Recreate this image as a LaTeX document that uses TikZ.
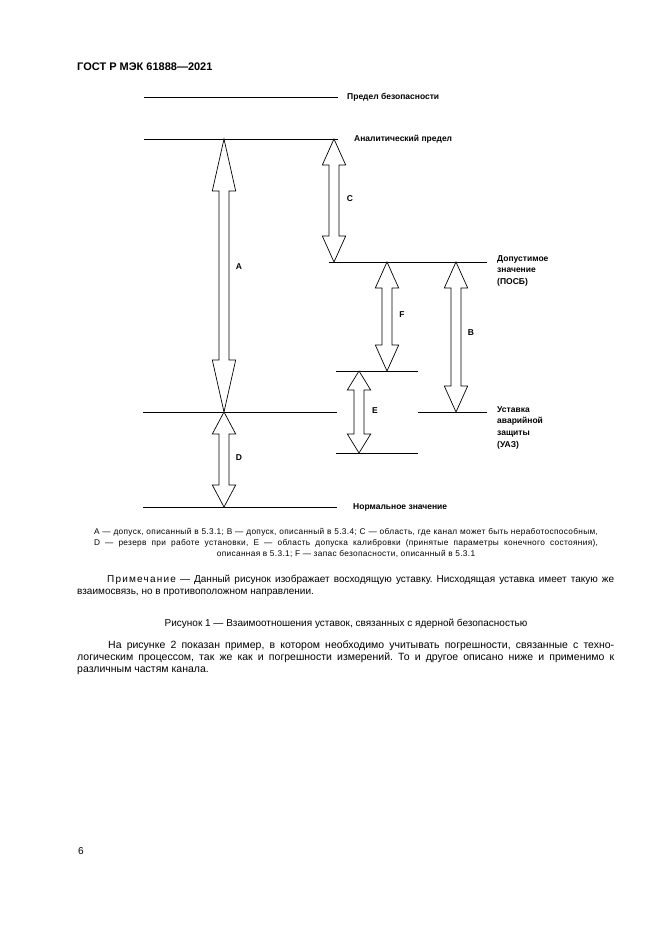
\documentclass[tikz,border=0pt]{standalone}
\usepackage{fontspec}
\setmainfont{Liberation Sans}
\usepackage{tikz}
\usetikzlibrary{positioning}

\begin{document}
\frenchspacing
\begin{tikzpicture}[x=1pt,y=-1pt,
    level/.style={line width=0.8pt},
    band/.style={line width=0.7pt,fill=white},
    tag/.style={font=\bfseries\fontsize{8.5}{10}\selectfont,inner sep=0pt},
    side/.style={font=\bfseries\fontsize{8.5}{11.7}\selectfont,align=left,inner sep=0pt,anchor=north west},
    letter/.style={font=\bfseries\fontsize{8.5}{10}\selectfont,inner sep=0pt}]
    \useasboundingbox (0,0) rectangle (661,935);

    % Header
    \node[anchor=west,inner sep=0pt,font=\bfseries\fontsize{11}{13}\selectfont] (head) at (77,67) {ГОСТ Р МЭК 61888—2021};

    % Levels
    \draw[level] (144,97) -- (338,97) coordinate (safeR);
    \draw[level] (144,139) -- (338,139) coordinate (anaR);
    \draw[level] (329,262) -- (487,262) coordinate (poR);
    \draw[level] (336,371) -- (418,371);
    \draw[level] (143,412) -- (337,412);
    \draw[level] (418,412) -- (487,412) coordinate (uazR);
    \draw[level] (336,453) -- (418,453);
    \draw[level] (143,507) -- (337,507) coordinate (normR);

    % Hollow double arrows: x / top / bottom / head length
    \foreach \x/\ya/\yb/\h in {224/139/412/52, 334/139/262/26, 387/262/371/26,
                               456/262/412/26, 359/371/453/19, 224/412/507/22}
        \draw[band] (\x,\ya) -- (\x+11.7,\ya+\h) -- (\x+5,\ya+\h) -- (\x+5,\yb-\h)
            -- (\x+11.7,\yb-\h) -- (\x,\yb) -- (\x-11.7,\yb-\h) -- (\x-5,\yb-\h)
            -- (\x-5,\ya+\h) -- (\x-11.7,\ya+\h) -- cycle;

    % Arrow letters
    \node[letter] (A) at (239,267) {A};
    \node[letter] (C) at (350,199) {C};
    \node[letter] (F) at (402,315) {F};
    \node[letter] (B) at (471,333) {B};
    \node[letter] (E) at (375,411) {E};
    \node[letter] (D) at (239,458) {D};

    % Level labels
    \node[tag,right=9pt of safeR] (safe) {Предел безопасности};
    \node[tag,right=16pt of anaR] (ana) {Аналитический предел};
    \node[tag,right=16pt of normR] (norm) {Нормальное значение};
    \node[side] (po) at (497,255) {Допустимое\\значение\\(ПОСБ)};
    \node[side] (uaz) at (497,406) {Уставка\\аварийной\\защиты\\(УАЗ)};

    % Key
    \node[anchor=north,text width=504pt,inner sep=0pt,align=justify,
          font=\fontsize{8.3}{11}\selectfont\addfontfeature{LetterSpace=4}] (key) at (346,528)
        {{\parfillskip=0pt
         A — допуск, описанный в 5.3.1; B — допуск, описанный в 5.3.4; C — область, где канал может быть неработоспособным,\linebreak
         D — резерв при работе установки, E — область допуска калибровки (принятые параметры конечного состояния),\par}
         \centering описанная в 5.3.1; F — запас безопасности, описанный в 5.3.1\par};

    % Note
    \node[anchor=north west,text width=537pt,inner sep=0pt,align=justify,
          font=\fontsize{10}{12}\selectfont] (note) at (77,575)
        {\hspace*{30pt}{\addfontfeature{LetterSpace=12}Примечание} — Данный рисунок изображает восходящую уставку. Нисходящая уставка имеет такую же\linebreak
         взаимосвязь, но в противоположном направлении.};

    % Caption
    \node[inner sep=0pt,font=\fontsize{10}{12}\selectfont] (cap) at (346,624)
        {Рисунок 1 — Взаимоотношения уставок, связанных с ядерной безопасностью};

    % Body text
    \node[anchor=north west,text width=537pt,inner sep=0pt,align=justify,
          font=\fontsize{10.5}{11.7}\selectfont] (body) at (77,641)
        {\hspace*{31pt}На рисунке 2 показан пример, в котором необходимо учитывать погрешности, связанные с техно-\linebreak
         логическим процессом, так же как и погрешности измерений. То и другое описано ниже и применимо к\linebreak
         различным частям канала.};

    % Page number
    \node[inner sep=0pt,font=\fontsize{10}{12}\selectfont] (page) at (81,851) {6};
\end{tikzpicture}
\end{document}
